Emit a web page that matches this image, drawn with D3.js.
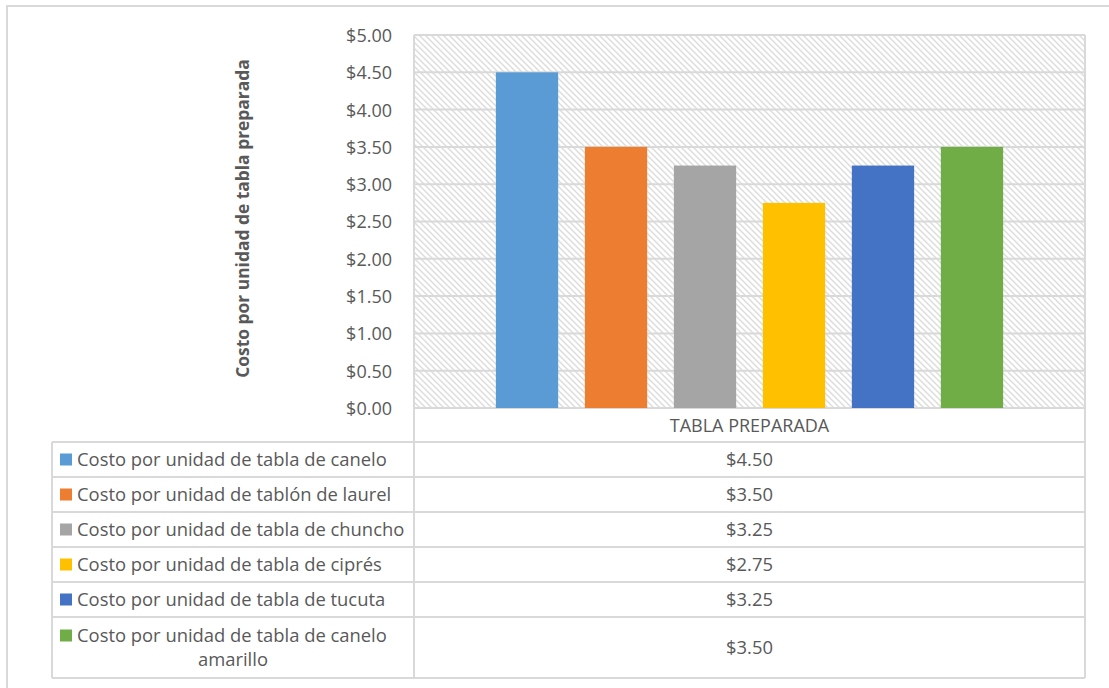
<!DOCTYPE html>
<html>
<head>
<meta charset="utf-8">
<script src="https://cdn.jsdelivr.net/npm/d3@7"></script>
<style>
  html, body { margin: 0; padding: 0; background: #ffffff; }
  svg { display: block; }
  text { font-family: "Open Sans", Lato, sans-serif; fill: #595959; }
</style>
</head>
<body>
<svg id="chart" width="1109" height="688"></svg>
<script>
// Cost per prepared board, by type of wood
const category = "TABLA PREPARADA";
const seriesNames = [
  "Costo por unidad de tabla de canelo",
  "Costo por unidad de tablón de laurel",
  "Costo por unidad de tabla de chuncho",
  "Costo por unidad de tabla de ciprés",
  "Costo por unidad de tabla de tucuta",
  "Costo por unidad de tabla de canelo amarillo"
];
const seriesValues = [4.50, 3.50, 3.25, 2.75, 3.25, 3.50];
const seriesColors = ["#5B9BD5", "#ED7D31", "#A5A5A5", "#FFC000", "#4472C4", "#70AD47"];
const yTicks = [0, 0.5, 1, 1.5, 2, 2.5, 3, 3.5, 4, 4.5, 5];
const yTitle = "Costo por unidad de tabla preparada";

const svg = d3.select("#chart");
const grid = "#d9d9d9";
const fmt = v => "$" + d3.format(".2f")(v);
const tableFont = "18.4px";

// layout
const plot = { left: 414, right: 1085, top: 35, bottom: 408 };
const table = { left: 52, mid: 414, right: 1085, top: 442 };
const rowH = [35, 35, 35, 35, 35, 61];

// outer chart frame
svg.append("rect")
  .attr("x", 7).attr("y", 6).attr("width", 1120).attr("height", 700)
  .attr("fill", "#fff").attr("stroke", grid).attr("stroke-width", 2);

// hatched plot-area fill
const defs = svg.append("defs");
const pat = defs.append("pattern")
  .attr("id", "hatch").attr("patternUnits", "userSpaceOnUse")
  .attr("width", 6).attr("height", 6);
pat.append("rect").attr("width", 6).attr("height", 6).attr("fill", "#fff");
pat.append("path")
  .attr("d", "M-1,5 L1,7 M0,0 L6,6 M5,-1 L7,1")
  .attr("stroke", "#dcdcdc").attr("stroke-width", 1.4);

const y = d3.scaleLinear().domain([0, 5]).range([plot.bottom, plot.top]);
const x = d3.scaleBand().domain(seriesNames)
  .range([plot.left, plot.right]).paddingInner(0.3).paddingOuter(0.92);

svg.append("rect")
  .attr("x", plot.left).attr("y", plot.top)
  .attr("width", plot.right - plot.left).attr("height", plot.bottom - plot.top)
  .attr("fill", "url(#hatch)");

// gridlines
svg.append("g").selectAll("line").data(yTicks).join("line")
  .attr("x1", plot.left).attr("x2", plot.right)
  .attr("y1", d => y(d)).attr("y2", d => y(d))
  .attr("stroke", grid).attr("stroke-width", 2);

// y axis
const yAxis = svg.append("g")
  .attr("transform", `translate(${plot.left - 22},0)`)
  .call(d3.axisLeft(y).tickValues(yTicks).tickFormat(fmt).tickSize(0).tickPadding(0));
yAxis.select(".domain").remove();
yAxis.selectAll("text")
  .style("font-family", "'Open Sans', Lato, sans-serif")
  .style("font-size", "18px").attr("fill", "#595959").attr("dy", "0.36em");

// y title
svg.append("text")
  .attr("transform", `translate(249,${(plot.top + plot.bottom) / 2 - 3}) rotate(-90)`)
  .attr("text-anchor", "middle")
  .style("font-size", "17.4px").style("font-weight", "bold")
  .text(yTitle);

// bars
svg.append("g").selectAll("rect").data(seriesNames).join("rect")
  .attr("x", d => x(d)).attr("width", x.bandwidth())
  .attr("y", (d, i) => y(seriesValues[i]))
  .attr("height", (d, i) => y(0) - y(seriesValues[i]))
  .attr("fill", (d, i) => seriesColors[i]);

// data table
const rowTops = [table.top];
rowH.forEach((h, i) => rowTops.push(rowTops[i] + h));
const tbl = svg.append("g");

// horizontal rules
tbl.selectAll("line.h").data(rowTops).join("line")
  .attr("class", "h")
  .attr("x1", table.left).attr("x2", table.right)
  .attr("y1", d => d).attr("y2", d => d)
  .attr("stroke", grid).attr("stroke-width", 2);
// vertical rules
tbl.append("line").attr("x1", table.left).attr("x2", table.left)
  .attr("y1", table.top).attr("y2", rowTops[rowTops.length - 1])
  .attr("stroke", grid).attr("stroke-width", 2);
[table.mid, table.right].forEach(xx => {
  tbl.append("line").attr("x1", xx).attr("x2", xx)
    .attr("y1", plot.top).attr("y2", rowTops[rowTops.length - 1])
    .attr("stroke", grid).attr("stroke-width", 2);
});

// category header
svg.append("text")
  .attr("x", (table.mid + table.right) / 2).attr("y", (plot.bottom + table.top) / 2 + 1)
  .attr("text-anchor", "middle").attr("dy", "0.35em")
  .style("font-size", "18px").text(category);

// rows: legend key, series name, value
seriesNames.forEach((name, i) => {
  const top = rowTops[i], h = rowH[i];
  const cy = top + h / 2;
  const g = tbl.append("g");
  const lines = [];
  // wrap long names to fit the cell
  const words = name.split(" ");
  const probe = g.append("text").style("font-size", tableFont);
  let cur = [];
  words.forEach(w => {
    probe.text(cur.concat(w).join(" "));
    if (probe.node().getComputedTextLength() > 334 && cur.length) {
      lines.push(cur.join(" ")); cur = [w];
    } else cur.push(w);
  });
  lines.push(cur.join(" "));
  probe.remove();

  const lh = 24;
  const firstY = cy - (lines.length - 1) * lh / 2;
  g.append("rect")
    .attr("x", 60).attr("y", firstY - 6).attr("width", 12).attr("height", 12)
    .attr("fill", seriesColors[i]);
  lines.forEach((ln, k) => {
    g.append("text")
      .attr("x", k === 0 ? 77 : (table.left + table.mid) / 2)
      .attr("y", firstY + k * lh).attr("dy", "0.35em")
      .attr("text-anchor", k === 0 ? "start" : "middle")
      .style("font-size", tableFont).text(ln);
  });
  g.append("text")
    .attr("x", (table.mid + table.right) / 2).attr("y", cy).attr("dy", "0.35em")
    .attr("text-anchor", "middle").style("font-size", tableFont)
    .text(fmt(seriesValues[i]));
});
</script>
</body>
</html>
